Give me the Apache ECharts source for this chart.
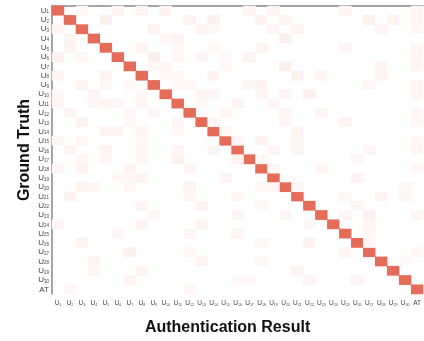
<!DOCTYPE html>
<html><head><meta charset="utf-8">
<script src="https://cdn.jsdelivr.net/npm/echarts@6/dist/echarts.min.js"></script>
<style>html,body{margin:0;padding:0;background:#fff}#c{width:424px;height:341px}</style>
</head><body><div id="c"></div>
<script>
const categories = ['U1','U2','U3','U4','U5','U6','U7','U8','U9','U10','U11','U12','U13','U14','U15','U16','U17','U18','U19','U20','U21','U22','U23','U24','U25','U26','U27','U28','U29','U30','AT'];
const diagonalValues = [0.95,0.95,0.95,0.95,0.95,0.95,0.95,0.95,0.95,0.95,0.95,0.95,0.95,0.95,0.95,0.95,0.95,0.95,0.95,0.95,0.95,0.95,0.95,0.95,0.95,0.95,0.95,0.95,0.95,0.95,0.95];
// [groundTruthRow, resultCol, value]
const offDiagonal = [
[0,2,0.04],[0,5,0.08],[0,7,0.08],[0,9,0.07],[0,16,0.07],[0,18,0.08],[0,24,0.07],[0,30,0.06],
[1,4,0.09],[1,11,0.08],[1,13,0.09],[1,17,0.07],[1,19,0.08],[1,26,0.09],[1,28,0.08],[1,30,0.06],
[2,0,0.07],[2,8,0.08],[2,12,0.08],[2,13,0.04],[2,18,0.07],[2,20,0.08],[2,27,0.07],[2,30,0.05],
[3,1,0.06],[3,9,0.05],[3,10,0.08],[3,19,0.1],
[4,1,0.08],[4,7,0.08],[4,10,0.04],[4,13,0.04],[4,17,0.08],[4,24,0.07],[4,30,0.06],
[5,0,0.09],[5,2,0.05],[5,8,0.1],[5,10,0.05],[5,12,0.07],[5,14,0.04],[5,16,0.08],[5,30,0.07],
[6,8,0.05],[6,9,0.05],[6,14,0.04],[6,19,0.1],[6,27,0.08],[6,30,0.07],
[7,0,0.07],[7,4,0.07],[7,9,0.05],[7,10,0.04],[7,13,0.07],[7,20,0.09],[7,22,0.07],[7,27,0.07],
[8,2,0.08],[8,4,0.05],[8,6,0.04],[8,10,0.04],[8,11,0.04],[8,16,0.06],[8,17,0.07],[8,26,0.06],[8,30,0.07],
[9,0,0.05],[9,3,0.07],[9,7,0.05],[9,12,0.07],[9,13,0.06],[9,17,0.06],[9,19,0.07],[9,21,0.09],[9,30,0.07],
[10,0,0.07],[10,3,0.05],[10,4,0.07],[10,5,0.06],[10,7,0.07],[10,12,0.04],[10,15,0.08],[10,18,0.06],
[11,1,0.07],[11,6,0.05],[11,8,0.06],[11,14,0.06],[11,19,0.07],[11,22,0.07],[11,30,0.05],
[12,2,0.08],[12,6,0.04],[12,10,0.06],[12,13,0.05],[12,19,0.06],[12,24,0.08],[12,30,0.05],
[13,4,0.07],[13,5,0.07],[13,7,0.07],[13,10,0.04],[13,14,0.05],[13,20,0.08],
[14,0,0.06],[14,2,0.05],[14,7,0.05],[14,15,0.07],[14,17,0.08],[14,20,0.06],[14,30,0.05],
[15,1,0.07],[15,4,0.07],[15,7,0.06],[15,10,0.07],[15,13,0.06],[15,18,0.06],[15,20,0.06],[15,26,0.06],[15,30,0.06],
[16,2,0.05],[16,4,0.05],[16,7,0.06],[16,10,0.09],[16,15,0.08],[16,17,0.05],[16,25,0.06],
[17,0,0.07],[17,2,0.08],[17,6,0.08],[17,11,0.07],[17,18,0.05],[17,22,0.06],[17,30,0.05],
[18,5,0.05],[18,6,0.05],[18,7,0.08],[18,14,0.07],[18,25,0.07],
[19,2,0.08],[19,3,0.06],[19,6,0.05],[19,11,0.08],[19,17,0.05],[19,18,0.05],[19,20,0.06],[19,29,0.05],
[20,1,0.07],[20,11,0.06],[20,15,0.06],[20,24,0.06],[20,27,0.08],[20,29,0.06],
[21,7,0.07],[21,12,0.08],[21,17,0.05],[21,25,0.06],
[22,8,0.05],[22,15,0.07],[22,19,0.06],[22,24,0.06],[22,26,0.1],[22,30,0.06],
[23,0,0.07],[23,7,0.08],[23,12,0.08],[23,21,0.06],[23,26,0.06],
[24,5,0.07],[24,11,0.06],[24,15,0.07],[24,26,0.05],
[25,2,0.08],[25,17,0.05],[25,21,0.08],[25,26,0.05],
[26,6,0.09],[26,11,0.05],[26,24,0.07],[26,30,0.05],
[27,3,0.08],[27,12,0.08],[27,17,0.05],[27,29,0.04],
[28,3,0.06],[28,7,0.08],[28,20,0.08],
[29,6,0.08],[29,15,0.05],[29,16,0.05],[29,21,0.07],[29,25,0.07],
[30,1,0.05],[30,11,0.05]
];

const data = [];
diagonalValues.forEach((v, i) => data.push([i, i, v]));
offDiagonal.forEach(d => data.push([d[1], d[0], d[2]]));

function fmt(v) {
  if (v === 'AT') return '{u|AT}';
  return '{u|U}{s|' + v.slice(1) + '}';
}
const richY = {
  u: { fontSize: 8, color: '#444', fontFamily: 'Liberation Sans, Arial' },
  s: { fontSize: 4.5, color: '#444', fontFamily: 'Liberation Sans, Arial', verticalAlign: 'bottom', padding: [3, 0, 0, 0] }
};
const richX = {
  u: { fontSize: 6.5, color: '#444', fontFamily: 'Liberation Sans, Arial' },
  s: { fontSize: 3.5, color: '#444', fontFamily: 'Liberation Sans, Arial', verticalAlign: 'bottom', padding: [2, 0, 0, 0] }
};

const chart = echarts.init(document.getElementById('c'), null, { renderer: 'canvas' });
chart.setOption({
  animation: false,
  grid: { left: 52, right: 0, top: 6, bottom: 40, containLabel: false },
  xAxis: [{
    type: 'category', data: categories, position: 'bottom',
    axisLine: { show: false }, axisTick: { show: false }, splitLine: { show: false },
    axisLabel: { interval: 0, formatter: fmt, rich: richX, margin: 6 },
    name: 'Authentication Result', nameLocation: 'middle', nameGap: 26,
    nameTextStyle: { fontSize: 16, fontWeight: 'bold', color: '#111', fontFamily: 'Liberation Sans, Arial', padding: [0, 20, 0, 0] }
  }, {
    type: 'category', data: categories, position: 'top',
    axisLine: { show: true, lineStyle: { color: '#888', width: 1.5 } },
    axisTick: { show: false }, axisLabel: { show: false }, splitLine: { show: false }
  }],
  yAxis: {
    type: 'category', data: categories, inverse: true,
    axisLine: { show: true, lineStyle: { color: '#888', width: 1.5 } },
    axisTick: { show: false }, splitLine: { show: false },
    axisLabel: { interval: 0, formatter: fmt, rich: richY, margin: 3 },
    name: 'Ground Truth', nameLocation: 'middle', nameGap: 19, nameMoveOverlap: false,
    nameTextStyle: { fontSize: 16, fontWeight: 'bold', color: '#111', fontFamily: 'Liberation Sans, Arial' }
  },
  visualMap: { show: false, min: 0, max: 1, inRange: { color: ['#ffffff', '#e46450'] } },
  series: [{ type: 'heatmap', data: data, xAxisIndex: 0, itemStyle: { borderWidth: 0 }, emphasis: { disabled: true } }]
});
</script></body></html>
